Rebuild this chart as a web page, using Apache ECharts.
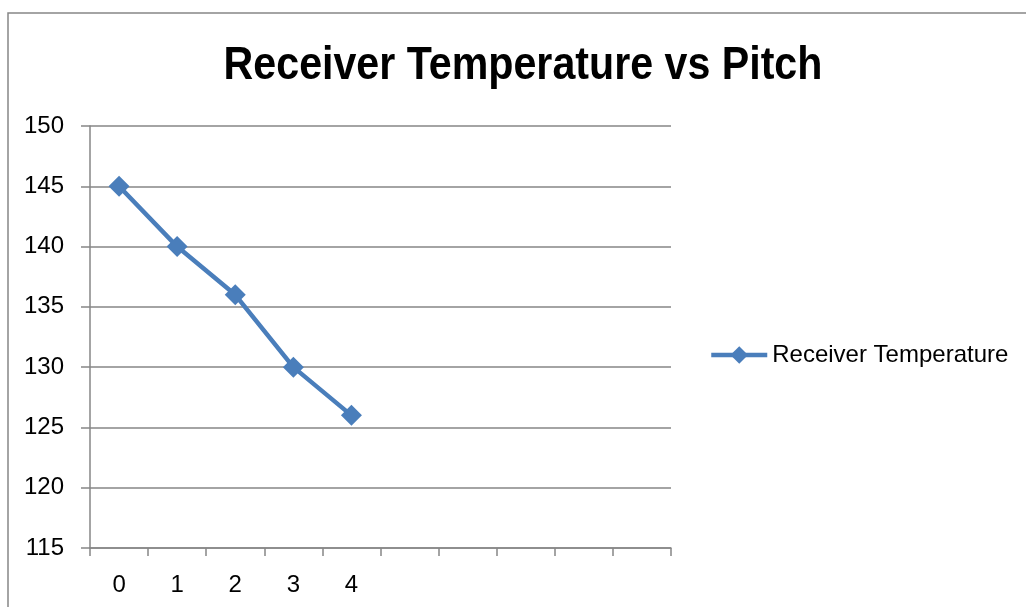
<!DOCTYPE html>
<html>
<head>
<meta charset="utf-8">
<script src="https://cdn.jsdelivr.net/npm/echarts@6/dist/echarts.min.js"></script>
<style>
html,body{margin:0;padding:0;background:#fff;}
#c{width:1026px;height:607px;}
</style>
</head>
<body>
<div id="c"></div>
<script>
const titleText = 'Receiver Temperature vs Pitch';
const seriesName = 'Receiver Temperature';
const categories = ['0', '1', '2', '3', '4', '', '', '', '', ''];
const temperatures = [145, 140, 136, 130, 126];
const yMin = 115, yMax = 150, yStep = 5;

const chart = echarts.init(document.getElementById('c'));
const txtFont = '"Liberation Sans", Arial, sans-serif';
chart.setOption({
  animation: false,
  backgroundColor: '#ffffff',
  graphic: [{
    type: 'rect', z: -1,
    shape: { x: 8, y: 13, width: 1040, height: 620 },
    style: { fill: 'none', stroke: '#868686', lineWidth: 1.5 }
  }, {
    type: 'text',
    x: 523, y: 43,
    scaleX: 0.895,
    style: {
      text: titleText,
      x: 0, y: 0,
      align: 'center', verticalAlign: 'top',
      font: 'bold 46px "Liberation Sans", Arial, sans-serif',
      fill: '#000'
    }
  }],
  legend: {
    left: 709, top: 343,
    padding: 0,
    itemWidth: 56, itemHeight: 22,
    textStyle: { fontFamily: txtFont, fontSize: 24, color: '#000' },
    lineStyle: { width: 4.5 },
    data: [seriesName]
  },
  grid: { left: 90, right: 355, top: 126, bottom: 59, containLabel: false },
  xAxis: {
    type: 'category',
    data: categories,
    boundaryGap: true,
    axisLine: { lineStyle: { color: '#868686', width: 1.5 } },
    axisTick: { show: true, length: 8, alignWithLabel: false, interval: 0, lineStyle: { color: '#868686', width: 1.5 } },
    axisLabel: { interval: 0, margin: 25, fontFamily: txtFont, fontSize: 24, color: '#000' },
    splitLine: { show: false }
  },
  yAxis: {
    type: 'value',
    min: yMin, max: yMax, interval: yStep,
    axisLine: { show: true, lineStyle: { color: '#868686', width: 1.5 } },
    axisTick: { show: true, length: 9, lineStyle: { color: '#868686', width: 1.5 } },
    axisLabel: { margin: 26, fontFamily: txtFont, fontSize: 24, color: '#000' },
    splitLine: { show: true, lineStyle: { color: '#868686', width: 1.5 } }
  },
  series: [{
    name: seriesName,
    type: 'line',
    data: temperatures,
    symbol: 'diamond',
    symbolSize: 21,
    itemStyle: { color: '#4A7EBB' },
    lineStyle: { color: '#4A7EBB', width: 4.5 }
  }]
});
</script>
</body>
</html>
